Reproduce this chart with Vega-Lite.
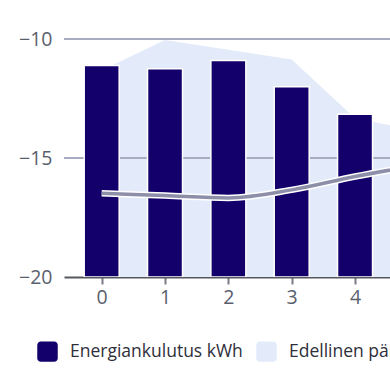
{
  "$schema": "https://vega.github.io/schema/vega-lite/v6.json",
  "width": 326,
  "height": 238,
  "autosize": {"type": "none"},
  "padding": {"left": 64, "top": 39, "right": 0, "bottom": 101},
  "config": {
    "view": {"stroke": null},
    "font": "Open Sans",
    "axis": {"labelFont": "Open Sans", "labelColor": "#5a5f6e", "labelFontSize": 19.5}
  },
  "data": {
    "values": [
      {"hour": 0, "kulutus": -11.11, "edellinen": -11.31, "viiva": -16.48},
      {"hour": 1, "kulutus": -11.25, "edellinen": -10.04, "viiva": -16.58},
      {"hour": 2, "kulutus": -10.9, "edellinen": -10.45, "viiva": -16.68},
      {"hour": 3, "kulutus": -12.01, "edellinen": -10.86, "viiva": -16.34},
      {"hour": 4, "kulutus": -13.16, "edellinen": -13.33, "viiva": -15.78},
      {"hour": 5, "kulutus": -12.6, "edellinen": -13.86, "viiva": -15.3}
    ]
  },
  "layer": [
    {
      "mark": {"type": "area", "clip": true, "interpolate": "linear"},
      "encoding": {
        "x": {
          "field": "hour",
          "type": "quantitative",
          "scale": {"domain": [-0.595, 4.552], "nice": false, "zero": false, "padding": 0},
          "axis": {
            "title": null,
            "values": [0, 1, 2, 3, 4],
            "format": "d",
            "grid": false,
            "domainColor": "#55585f",
            "domainWidth": 2,
            "tickColor": "#7a7d85",
            "tickWidth": 2,
            "tickSize": 7,
            "labelPadding": 4
          }
        },
        "y": {
          "field": "edellinen",
          "type": "quantitative",
          "scale": {"domain": [-20, -10], "nice": false, "zero": false},
          "axis": {
            "title": null,
            "values": [-20, -15, -10],
            "grid": false,
            "domain": false,
            "ticks": false,
            "labelPadding": 12
          }
        },
        "y2": {"datum": -20},
        "color": {"datum": "Edellinen päivä"}
      }
    },
    {
      "mark": {"type": "rule", "color": "#a9abc0", "strokeWidth": 2},
      "encoding": {"y": {"datum": -15}}
    },
    {
      "mark": {"type": "rule", "color": "#a9abc0", "strokeWidth": 2},
      "encoding": {"y": {"datum": -10}}
    },
    {
      "mark": {"type": "bar", "clip": true, "width": 35, "stroke": "white", "strokeWidth": 1.5},
      "encoding": {
        "x": {"field": "hour", "type": "quantitative"},
        "y": {"field": "kulutus", "type": "quantitative"},
        "y2": {"datum": -20},
        "color": {
          "datum": "Energiankulutus kWh",
          "scale": {
            "domain": ["Energiankulutus kWh", "Edellinen päivä"],
            "range": ["#13006a", "#e3ebfa"]
          },
          "legend": {
            "title": null,
            "orient": "none",
            "legendX": -27,
            "legendY": 302,
            "direction": "horizontal",
            "padding": 0,
            "symbolType": "M-1,-0.65 A0.35,0.35 0 0 1 -0.65,-1 L0.65,-1 A0.35,0.35 0 0 1 1,-0.65 L1,0.65 A0.35,0.35 0 0 1 0.65,1 L-0.65,1 A0.35,0.35 0 0 1 -1,0.65 Z",
            "symbolSize": 420,
            "symbolStrokeWidth": 0,
            "symbolOpacity": 1,
            "labelFont": "Open Sans",
            "labelFontSize": 17.5,
            "labelColor": "#2e2f3a",
            "labelOffset": 12,
            "columnPadding": 13,
            "labelLimit": 400
          }
        }
      }
    },
    {
      "mark": {"type": "line", "clip": true, "interpolate": "monotone", "color": "white", "strokeWidth": 6.5},
      "encoding": {
        "x": {"field": "hour", "type": "quantitative"},
        "y": {"field": "viiva", "type": "quantitative"}
      }
    },
    {
      "mark": {"type": "line", "clip": true, "interpolate": "monotone", "color": "#8d8fa9", "strokeWidth": 3.5},
      "encoding": {
        "x": {"field": "hour", "type": "quantitative"},
        "y": {"field": "viiva", "type": "quantitative"}
      }
    }
  ]
}
